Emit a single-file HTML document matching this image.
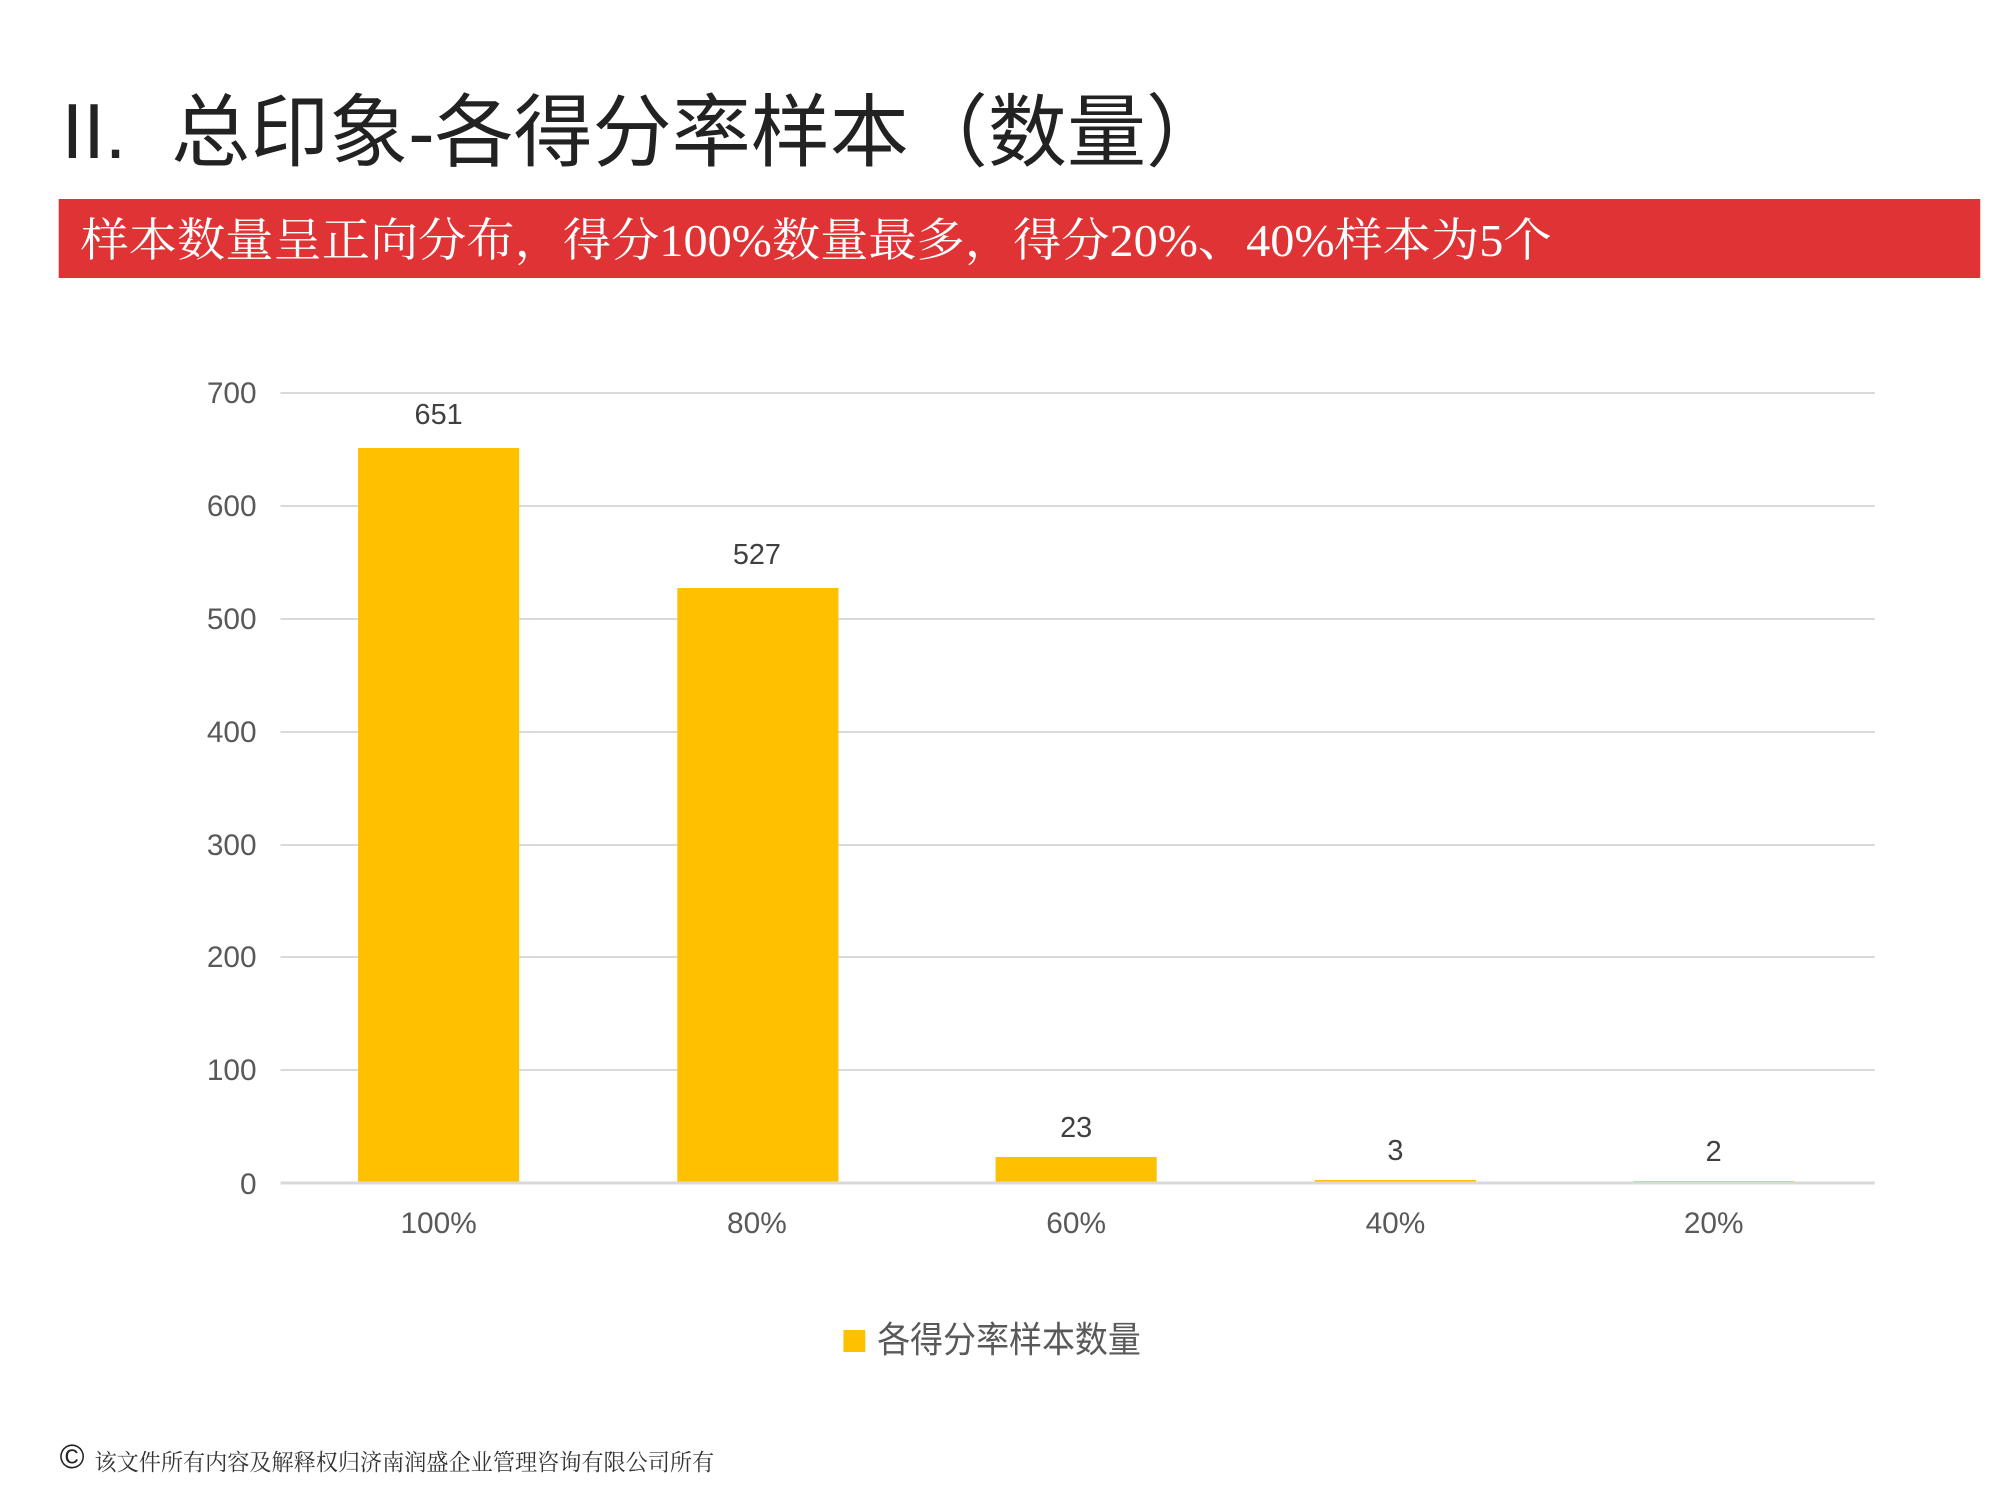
<!DOCTYPE html>
<html><head><meta charset="utf-8"><style>
html,body{margin:0;padding:0;background:#fff;}
svg{display:block}
</style></head><body>
<svg width="2000" height="1500" viewBox="0 0 2000 1500" xmlns="http://www.w3.org/2000/svg">
<rect width="2000" height="1500" fill="#fff"/>
<g transform="scale(0.9946,1)">
<text x="62" y="158" font-family="Liberation Sans, sans-serif" font-size="78" fill="#222">II.</text>
<text x="172" y="160" font-family="Liberation Sans, Noto Sans CJK SC, sans-serif" font-size="79.5" fill="#222">总印象-各得分率样本（数量）</text>
<rect x="59" y="199" width="1932" height="79" fill="#E03335"/>
<text x="81" y="256" font-family="Liberation Serif, Noto Serif CJK SC, serif" font-size="46" fill="#fff" textLength="1479" lengthAdjust="spacingAndGlyphs">样本数量呈正向分布，得分100%数量最多，得分20%、40%样本为5个</text>
<g stroke="#d9d9d9" stroke-width="2">
<line x1="282" y1="393" x2="1885" y2="393"/>
<line x1="282" y1="506" x2="1885" y2="506"/>
<line x1="282" y1="619" x2="1885" y2="619"/>
<line x1="282" y1="732" x2="1885" y2="732"/>
<line x1="282" y1="845" x2="1885" y2="845"/>
<line x1="282" y1="957" x2="1885" y2="957"/>
<line x1="282" y1="1070" x2="1885" y2="1070"/>
</g>
<g font-family="Liberation Sans, sans-serif" font-size="30" fill="#595959" text-anchor="end">
<text x="258" y="403">700</text><text x="258" y="516">600</text><text x="258" y="629">500</text><text x="258" y="742">400</text><text x="258" y="855">300</text><text x="258" y="967">200</text><text x="258" y="1080">100</text><text x="258" y="1194">0</text>
</g>
<g fill="#FFC000">
<rect x="360" y="448" width="162" height="735"/>
<rect x="681" y="588" width="162" height="595"/>
<rect x="1001" y="1157" width="162" height="26"/>
<rect x="1322" y="1180" width="162" height="3"/>
<rect x="1642" y="1181" width="162" height="2"/>
</g>
<line x1="282" y1="1183" x2="1885" y2="1183" stroke="#d9d9d9" stroke-width="3"/>
<g font-family="Liberation Sans, sans-serif" font-size="29" fill="#404040" text-anchor="middle">
<text x="441" y="424">651</text><text x="761" y="564">527</text><text x="1082" y="1137">23</text><text x="1403" y="1160">3</text><text x="1723" y="1161">2</text>
</g>
<g font-family="Liberation Sans, sans-serif" font-size="30" fill="#595959" text-anchor="middle">
<text x="441" y="1233">100%</text><text x="761" y="1233">80%</text><text x="1082" y="1233">60%</text><text x="1403" y="1233">40%</text><text x="1723" y="1233">20%</text>
</g>
<rect x="848" y="1330" width="22" height="22" fill="#FFC000"/>
<text x="882" y="1352" font-family="Liberation Sans, Noto Sans CJK SC, sans-serif" font-size="36" fill="#595959" textLength="265" lengthAdjust="spacingAndGlyphs">各得分率样本数量</text>
<text x="60" y="1468" font-family="Liberation Sans, sans-serif" font-size="34" fill="#222">©</text>
<text x="95" y="1470" font-family="Liberation Serif, Noto Serif CJK SC, serif" font-size="23" fill="#333" textLength="623" lengthAdjust="spacingAndGlyphs">该文件所有内容及解释权归济南润盛企业管理咨询有限公司所有</text>
</g>
</svg>
</body></html>
